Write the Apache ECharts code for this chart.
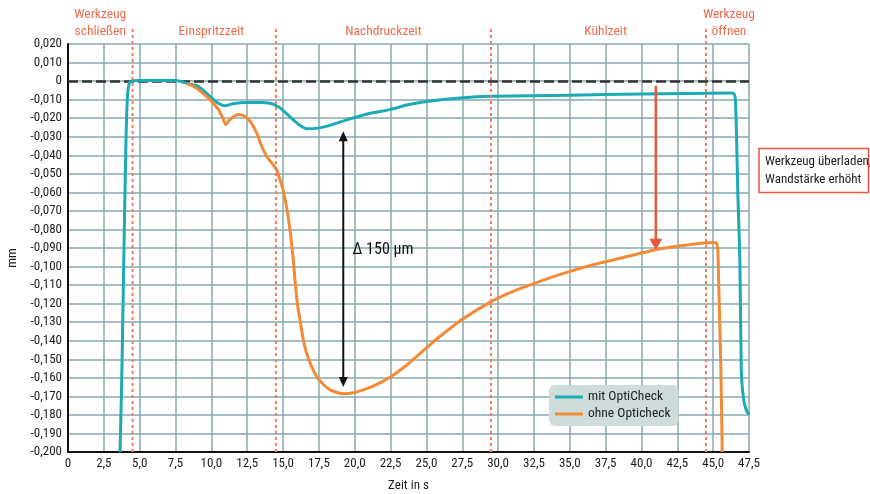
<!DOCTYPE html>
<html>
<head>
<meta charset="utf-8">
<script src="https://cdn.jsdelivr.net/npm/echarts@6/dist/echarts.min.js"></script>
<style>
html,body{margin:0;padding:0;background:#fff;}
#c{width:870px;height:494px;}
</style>
</head>
<body>
<div id="c"></div>
<script>
// ---- data ----
const seriesNames = ['mit OptiCheck', 'ohne Opticheck'];
const tealData = [
  [3.63,-0.2],[3.75,-0.16],[3.84,-0.12],[3.95,-0.07],[4.05,-0.03],[4.12,-0.012],[4.2,-0.004],[4.32,-0.0005],[4.5,0.0002],
  [5,0.0003],[6,0.0003],[7.5,0.0003],[7.8,0],[8.1,-0.0008],[8.4,-0.0014],[8.97,-0.0025],[9.4,-0.0048],[9.9,-0.0082],
  [10.4,-0.0115],[10.95,-0.0133],[11.5,-0.0122],[12.46,-0.0115],[13.5,-0.0115],[14.0,-0.0118],[14.3,-0.0124],
  [14.7,-0.014],[15.0,-0.0158],[15.7,-0.0208],[16.2,-0.024],[16.64,-0.0257],[17.3,-0.0255],[18.0,-0.0244],
  [19.67,-0.0204],[21,-0.0175],[22.45,-0.0154],[23.7,-0.0128],[25.0,-0.011],[27.34,-0.0091],[29.55,-0.0082],
  [35,-0.0076],[40,-0.007],[46.16,-0.0064],[46.4,-0.0066],[46.53,-0.0085],[46.6,-0.02],[46.72,-0.06],
  [46.86,-0.096],[46.96,-0.1557],[47.03,-0.165],[47.1,-0.170],[47.2,-0.1746],[47.35,-0.178],[47.5,-0.180]
];
const orangeData = [
  [8.3,-0.0012],[8.8,-0.003],[9.4,-0.0065],[9.9,-0.010],[10.5,-0.0154],[10.8,-0.020],[11.0,-0.0235],[11.2,-0.0215],
  [11.4,-0.020],[11.87,-0.018],[12.2,-0.0185],[12.57,-0.0205],[12.9,-0.024],[13.16,-0.028],[13.5,-0.035],
  [13.86,-0.0406],[14.2,-0.044],[14.55,-0.0478],[14.78,-0.053],[15.0,-0.0586],[15.25,-0.068],[15.48,-0.080],
  [15.7,-0.095],[15.83,-0.107],[16.0,-0.120],[16.18,-0.1286],[16.4,-0.139],[16.64,-0.1466],[17.0,-0.154],
  [17.34,-0.1593],[17.8,-0.1635],[18.28,-0.1665],[19.2,-0.1686],[19.9,-0.168],[20.6,-0.1665],[21.2,-0.1648],
  [21.9,-0.1622],[22.5,-0.1596],[23.1,-0.1562],[23.7,-0.1527],[24.55,-0.147],[25.24,-0.1422],[25.94,-0.1377],
  [27.45,-0.1287],[29.55,-0.1188],[31,-0.1135],[32.57,-0.1089],[35.0,-0.1026],[37.1,-0.0981],[38.5,-0.0955],
  [41.0,-0.0909],[43,-0.0885],[45.0,-0.087],[45.2,-0.0872],[45.32,-0.090],[45.38,-0.107],[45.54,-0.156],[45.63,-0.2]
];
const phaseBounds = [4.5, 14.5, 29.5, 44.5];
const phaseLabels = ['Werkzeug\nschließen', 'Einspritzzeit', 'Nachdruckzeit', 'Kühlzeit', 'Werkzeug\nöffnen'];
const phaseLabelX = [2.25, 10.0, 22.0, 37.5, 46.1];
const redArrow = [[41.0, -0.0025], [41.0, -0.0909]];
const blackArrow = [[19.2, -0.027], [19.2, -0.165]];
const deltaText = 'Δ 150 µm';
const deltaPos = [19.85, -0.091];
const noteLines = 'Werkzeug überladen,\nWandstärke erhöht';
const xMin = 0, xMax = 47.5, xStep = 2.5;
const yMin = -0.2, yMax = 0.02, yStep = 0.01;

// ---- chart ----
const FONT = "'Roboto Condensed','Open Sans',sans-serif";
const FS = 13;
const TEAL = '#1aabb7', ORANGE = '#f28a36', RED = '#e9563b', PHASE = '#ee6b50';
const chart = echarts.init(document.getElementById('c'), null, {renderer: 'canvas'});
const gridCol = '#86a9ae';
const ts = (size, color) => ({fontFamily: FONT, fontSize: size, color: color || '#1e1e1e'});
chart.setOption({
  animation: false,
  grid: {left: 68, right: 121, top: 44, bottom: 42, outerBoundsMode: 'none', containLabel: false},
  legend: {
    orient: 'vertical', left: 549, top: 385,
    backgroundColor: '#cfdcdc', borderRadius: 6, padding: [5, 8, 5, 6],
    itemWidth: 28, itemHeight: 3, itemGap: 3,
    icon: 'rect',
    textStyle: ts(FS + 0.5),
    data: seriesNames
  },
  xAxis: {
    type: 'value', min: xMin, max: xMax, interval: xStep,
    name: 'Zeit in s', nameLocation: 'middle', nameGap: 27,
    nameTextStyle: ts(FS),
    axisLine: {show: true, onZero: false, lineStyle: {color: '#111', width: 2}},
    axisTick: {show: false},
    axisLabel: Object.assign({margin: 5,
      formatter: v => Math.abs(v) < 1e-9 ? '0' : v.toFixed(1).replace('.', ',')}, ts(FS)),
    splitLine: {show: true, lineStyle: {color: gridCol, width: 1.5}}
  },
  yAxis: {
    type: 'value', min: yMin, max: yMax, interval: yStep,
    name: 'mm', nameLocation: 'middle', nameGap: 48,
    nameTextStyle: Object.assign({padding: [0, 20, 0, 0]}, ts(FS)),
    axisLine: {show: true, onZero: false, lineStyle: {color: '#111', width: 2}},
    axisTick: {show: false},
    axisLabel: Object.assign({margin: 6,
      formatter: v => Math.abs(v) < 1e-9 ? '0' : v.toFixed(3).replace('.', ',')}, ts(FS)),
    splitLine: {show: true, lineStyle: {color: gridCol, width: 1.5}}
  },
  series: [
    {
      name: seriesNames[0], type: 'line', data: tealData, showSymbol: false, smooth: 0.2,
      lineStyle: {color: TEAL, width: 3}, itemStyle: {color: TEAL}, z: 3,
      markLine: {
        silent: true, symbol: 'none', label: {show: false},
        lineStyle: {color: '#333', type: [10, 4], width: 2.5},
        data: [{yAxis: 0}], z: 2
      }
    },
    {
      name: seriesNames[1], type: 'line', data: orangeData, showSymbol: false, smooth: 0.2,
      lineStyle: {color: ORANGE, width: 3}, itemStyle: {color: ORANGE}, z: 4
    }
  ]
});

function px(p) { return chart.convertToPixel({gridIndex: 0}, p); }
function arrowHead(tip, dir, w, h, color) {
  return {type: 'polygon', z: 20, shape: {points: [[tip[0], tip[1]], [tip[0] - w / 2, tip[1] - dir * h], [tip[0] + w / 2, tip[1] - dir * h]]},
    style: {fill: color}};
}
const gfont = size => size + 'px ' + FONT;
const g = [];
phaseBounds.forEach(b => {
  const top = px([b, yMax]), bot = px([b, yMin]);
  g.push({type: 'line', z: 10, shape: {x1: top[0], y1: top[1] - 15, x2: bot[0], y2: bot[1]},
    style: {stroke: '#f27a66', lineWidth: 2, lineDash: [3, 3]}});
});
phaseLabels.forEach((t, i) => {
  const p = px([phaseLabelX[i], yMax]);
  g.push({type: 'text', z: 10, style: {text: t, x: p[0], y: p[1] - 4, fill: PHASE, font: gfont(FS + 0.5),
    textAlign: 'center', textVerticalAlign: 'bottom', lineHeight: 17}});
});
{
  const a = px(redArrow[0]), b = px(redArrow[1]);
  g.push({type: 'line', z: 20, shape: {x1: a[0], y1: a[1], x2: b[0], y2: b[1] - 8}, style: {stroke: RED, lineWidth: 2.5}});
  g.push(arrowHead(b, 1, 13, 11, RED));
}
{
  const a = px(blackArrow[0]), b = px(blackArrow[1]);
  g.push({type: 'line', z: 20, shape: {x1: a[0], y1: a[1] + 6, x2: b[0], y2: b[1] - 6}, style: {stroke: '#111', lineWidth: 2}});
  g.push(arrowHead(a, -1, 9, 10, '#111'));
  g.push(arrowHead(b, 1, 9, 10, '#111'));
  const t = px(deltaPos);
  g.push({type: 'text', z: 20, style: {text: deltaText, x: t[0], y: t[1], fill: '#111', font: gfont(16),
    textAlign: 'left', textVerticalAlign: 'middle'}});
}
g.push({type: 'rect', z: 20, shape: {x: 759, y: 148.5, width: 109.5, height: 44},
  style: {fill: '#fff', stroke: RED, lineWidth: 1.5}});
g.push({type: 'text', z: 21, style: {text: noteLines, x: 765, y: 171, fill: '#1e1e1e', font: gfont(FS),
  textAlign: 'left', textVerticalAlign: 'middle', lineHeight: 18}});
chart.setOption({graphic: g});
</script>
</body>
</html>
